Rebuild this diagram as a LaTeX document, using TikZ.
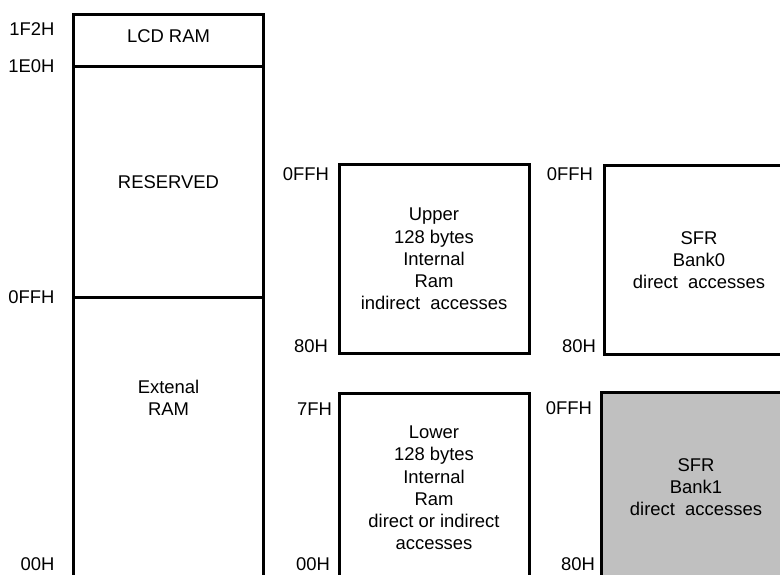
\documentclass[tikz,border=0pt]{standalone}
\usepackage{fontspec}
\setmainfont{Liberation Sans}
\usetikzlibrary{positioning}
\definecolor{colBank}{RGB}{192,192,192}
\newcommand{\memfont}{\fontsize{18.5}{22.3}\selectfont}

\begin{document}
\begin{tikzpicture}[
  x=1bp, y=-1bp,
  mem/.style={rectangle, draw, line width=3bp, minimum width=190bp, inner sep=0pt,
              outer sep=0pt, font=\memfont, align=center, anchor=north west},
  addr/.style={inner sep=0pt, outer sep=0pt, font=\memfont},
]
\useasboundingbox (0,0) rectangle (780,575);

% addresses at the bottom edge
\node[addr, anchor=south east] (aExtBot) at (54.5,571) {00H};
\node[addr, anchor=south east] (aLowBot) at (330,571) {00H};
\node[addr, anchor=south east] (aB1Bot) at (595,571) {80H};

\begin{scope}
\clip (0,0) rectangle (780,575);

% external memory column
\node[mem, minimum height=52bp, text depth=8bp] (lcd) at (73.5,14.5) {LCD RAM};
\node[mem, minimum height=231bp, below=0pt of lcd] (rsv) {RESERVED};
\node[mem, minimum height=300bp, below=0pt of rsv] (ext) {};
\node[addr, align=center] (extTxt) at (168.5,398) {Extenal\\RAM};

% internal ram
\node[mem, minimum height=188bp] (upper) at (339,165) {Upper\\128 bytes\\Internal\\Ram\\indirect\ \ accesses};
\node[mem, minimum height=190bp] (lower) at (339,393) {Lower\\128 bytes\\Internal\\Ram\\direct or indirect\\accesses};

% special function registers
\node[mem, minimum height=188bp] (bank0) at (604,166) {SFR\\Bank0\\direct\ \ accesses};
\node[mem, fill=colBank, minimum height=190bp] (bank1) at (601,392) {SFR\\Bank1\\direct\ \ accesses};
\end{scope}

% addresses
\node[addr, anchor=east] (aLcdTop) at (54.5,29.5) {1F2H};
\node[addr, left=19bp of lcd.south west] (aLcdBot) {1E0H};
\node[addr, left=19bp of rsv.south west] (aRsvBot) {0FFH};
\node[addr, below left=3bp and 10bp of upper.north west] (aUpTop) {0FFH};
\node[addr, above left=0bp and 11bp of upper.south west] (aUpBot) {80H};
\node[addr, below left=10bp and 7bp of lower.north west] (aLowTop) {7FH};
\node[addr, below left=2bp and 11bp of bank0.north west] (aB0Top) {0FFH};
\node[addr, above left=1bp and 8bp of bank0.south west] (aB0Bot) {80H};
\node[addr, below left=10bp and 9bp of bank1.north west] (aB1Top) {0FFH};
\end{tikzpicture}
\end{document}
